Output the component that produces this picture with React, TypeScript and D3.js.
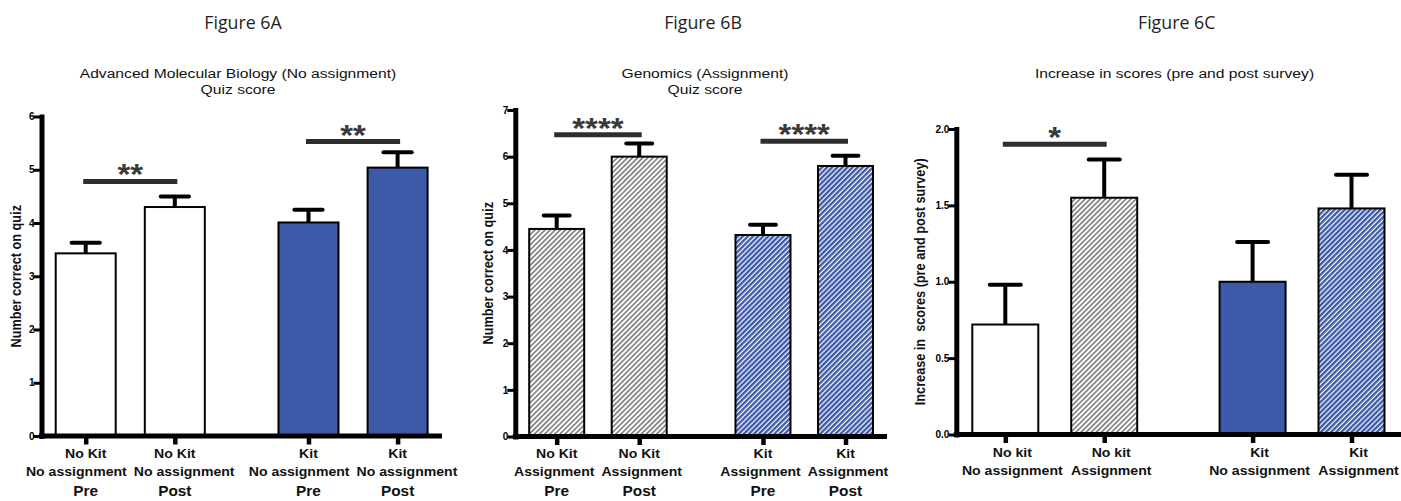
import { useEffect, useRef } from 'react';
import * as d3 from 'd3';

// Figure 6A - Advanced Molecular Biology (no assignment), quiz score
const labelsA = [
  ['No Kit', 'No assignment', 'Pre'],
  ['No Kit', 'No assignment', 'Post'],
  ['Kit', 'No assignment', 'Pre'],
  ['Kit', 'No assignment', 'Post'],
];
const meansA = [3.43, 4.30, 4.01, 5.04];
const errorsA = [0.20, 0.20, 0.24, 0.29];
const fillsA = ['white', 'white', 'blue', 'blue'];
const sigA = [
  { from: 0, to: 1, level: 4.78, stars: '**' },
  { from: 2, to: 3, level: 5.53, stars: '**' },
];
const ticksA = [0, 1, 2, 3, 4, 5, 6];

// Figure 6B - Genomics (assignment), quiz score
const labelsB = [
  ['No Kit', 'Assignment', 'Pre'],
  ['No Kit', 'Assignment', 'Post'],
  ['Kit', 'Assignment', 'Pre'],
  ['Kit', 'Assignment', 'Post'],
];
const meansB = [4.45, 6.00, 4.32, 5.80];
const errorsB = [0.29, 0.28, 0.22, 0.22];
const fillsB = ['grayHatch', 'grayHatch', 'blueHatch', 'blueHatch'];
const sigB = [
  { from: 0, to: 1, level: 6.47, stars: '****' },
  { from: 2, to: 3, level: 6.33, stars: '****' },
];
const ticksB = [0, 1, 2, 3, 4, 5, 6, 7];

// Figure 6C - increase in scores
const labelsC = [
  ['No kit', 'No assignment'],
  ['No kit', 'Assignment'],
  ['Kit', 'No assignment'],
  ['Kit', 'Assignment'],
];
const meansC = [0.72, 1.55, 1.00, 1.48];
const errorsC = [0.26, 0.25, 0.26, 0.22];
const fillsC = ['white', 'grayHatch', 'blue', 'blueHatch'];
const sigC = [{ from: 0, to: 1, level: 1.90, stars: '*' }];
const ticksC = [0, 0.5, 1, 1.5, 2];

const BLUE = '#3d5aa9';
const FILLS = {
  white: '#ffffff',
  blue: BLUE,
  grayHatch: 'url(#hatchGray)',
  blueHatch: 'url(#hatchBlue)',
};
const SANS = '"Liberation Sans", Arial, sans-serif';

const panels = [
  {
    title: 'Figure 6A',
    subtitle: ['Advanced Molecular Biology (No assignment)', 'Quiz score'],
    yLabel: 'Number correct on quiz',
    labels: labelsA, means: meansA, errors: errorsA, fills: fillsA, sig: sigA, ticks: ticksA,
    fmt: d3.format('d'),
    layout: { titleX: 243, subX: 238, subY: [78, 94], axisX: 41.5, yTop: 116.5, y0: 436, xEnd: 442,
      c0: 85.7, c3: 397.6, barW: 60, yLabelX: 16, labelDx: 0, rowY: [457.8, 476.3, 496] },
  },
  {
    title: 'Figure 6B',
    subtitle: ['Genomics (Assignment)', 'Quiz score'],
    yLabel: 'Number correct on quiz',
    labels: labelsB, means: meansB, errors: errorsB, fills: fillsB, sig: sigB, ticks: ticksB,
    fmt: d3.format('d'),
    layout: { titleX: 703, subX: 705, subY: [78, 94], axisX: 515.3, yTop: 110, y0: 436.5, xEnd: 887,
      c0: 556.7, c3: 845.5, barW: 55, yLabelX: 488.3, labelDx: 0, rowY: [457.8, 476.3, 496] },
  },
  {
    title: 'Figure 6C',
    subtitle: ['Increase in scores (pre and post survey)'],
    yLabel: 'Increase in  scores (pre and post survey)',
    labels: labelsC, means: meansC, errors: errorsC, fills: fillsC, sig: sigC, ticks: ticksC,
    fmt: d3.format('.1f'),
    layout: { titleX: 1176.7, subX: 1174.5, subY: [77.5], axisX: 956.3, yTop: 129, y0: 434.5, xEnd: 1401,
      c0: 1005.3, c3: 1351.5, barW: 66, yLabelX: 920, labelDx: 7, rowY: [457.3, 474.8] },
  },
];

// text that is a little wider than its font size, like the exported figure
function stretched(g, x, y, str, size, sx, weight) {
  return g.append('text')
    .attr('transform', `translate(${x},${y}) scale(${sx},1)`)
    .attr('text-anchor', 'middle')
    .style('font-family', SANS)
    .style('font-size', `${size}px`)
    .style('font-weight', weight)
    .style('white-space', 'pre')
    .attr('fill', '#111')
    .text(str);
}

function drawPanel(svg, p) {
  const L = p.layout;
  const g = svg.append('g');

  const y = d3.scaleLinear().domain([0, d3.max(p.ticks)]).range([L.y0, L.yTop]);
  const slot = p.means.map((_, i) => i + (i >= 2 ? 0.5 : 0));
  const x = d3.scaleLinear().domain([0, d3.max(slot)]).range([L.c0, L.c3]);

  // titles
  g.append('text')
    .attr('x', L.titleX)
    .attr('y', 28.5)
    .attr('text-anchor', 'middle')
    .style('font-family', '"Open Sans", sans-serif')
    .style('font-size', '17.8px')
    .attr('fill', '#231f20')
    .text(p.title);

  p.subtitle.forEach((line, i) => {
    stretched(g, L.subX, L.subY[i], line, 13.5, 1.16, 'normal');
  });

  // bars
  g.selectAll('rect.bar')
    .data(p.means)
    .join('rect')
    .attr('class', 'bar')
    .attr('x', (d, i) => x(slot[i]) - L.barW / 2)
    .attr('y', d => y(d))
    .attr('width', L.barW)
    .attr('height', d => y(0) - y(d))
    .attr('fill', (d, i) => FILLS[p.fills[i]])
    .attr('stroke', '#000')
    .attr('stroke-width', 2);

  // error bars (upper whisker only)
  const err = g.selectAll('g.err')
    .data(p.means)
    .join('g')
    .attr('class', 'err');
  err.append('line')
    .attr('x1', (d, i) => x(slot[i]))
    .attr('x2', (d, i) => x(slot[i]))
    .attr('y1', d => y(d))
    .attr('y2', (d, i) => y(d + p.errors[i]))
    .attr('stroke', '#000')
    .attr('stroke-width', 4);
  err.append('line')
    .attr('x1', (d, i) => x(slot[i]) - L.barW * 0.235)
    .attr('x2', (d, i) => x(slot[i]) + L.barW * 0.235)
    .attr('y1', (d, i) => y(d + p.errors[i]))
    .attr('y2', (d, i) => y(d + p.errors[i]))
    .attr('stroke', '#000')
    .attr('stroke-width', 4)
    .attr('stroke-linecap', 'round');

  // significance brackets
  p.sig.forEach(s => {
    const x1 = x(slot[s.from]);
    const x2 = x(slot[s.to]);
    g.append('line')
      .attr('x1', x1).attr('x2', x2)
      .attr('y1', y(s.level)).attr('y2', y(s.level))
      .attr('stroke', '#2e2e2e')
      .attr('stroke-width', 5)
      .attr('stroke-linecap', 'square');
    stretched(g, (x1 + x2) / 2, y(s.level) - 13.5 + 16.5, s.stars, 30, 1.1, 'bold')
      .attr('fill', '#3a3a3a');
  });

  // y axis
  const yAxis = g.append('g')
    .attr('transform', `translate(${L.axisX},0)`)
    .call(d3.axisLeft(y).tickValues(p.ticks).tickSize(8).tickSizeOuter(0).tickPadding(-1).tickFormat(p.fmt));
  yAxis.select('.domain')
    .attr('stroke', '#000')
    .attr('stroke-width', 5)
    .attr('stroke-linecap', 'square');
  yAxis.selectAll('.tick line').attr('stroke', '#000').attr('stroke-width', 3);
  yAxis.selectAll('.tick text')
    .attr('fill', '#000')
    .style('font-family', SANS)
    .style('font-size', '10px')
    .style('font-weight', 'bold');

  // x axis
  g.append('line')
    .attr('x1', L.axisX - 2.5).attr('x2', L.xEnd)
    .attr('y1', L.y0).attr('y2', L.y0)
    .attr('stroke', '#000')
    .attr('stroke-width', 5);
  const xAxis = g.append('g')
    .attr('transform', `translate(0,${L.y0})`)
    .call(d3.axisBottom(x).tickValues(slot).tickSize(8.5).tickFormat(''));
  xAxis.select('.domain').remove();
  xAxis.selectAll('.tick line').attr('stroke', '#000').attr('stroke-width', 4.5);

  // y label
  const mid = (L.y0 + L.yTop) / 2;
  g.append('text')
    .attr('transform', `translate(${L.yLabelX},${mid}) scale(1.1,1) rotate(-90)`)
    .attr('text-anchor', 'middle')
    .attr('dy', '0.35em')
    .style('font-family', SANS)
    .style('font-size', '12.7px')
    .style('font-weight', 'bold')
    .style('white-space', 'pre')
    .attr('fill', '#111')
    .text(p.yLabel);

  // category labels, pushed apart where neighbours would collide
  const rows = d3.max(p.labels, l => l.length);
  for (let r = 0; r < rows; r++) {
    const size = r < 2 ? 12.8 : 14;
    const base = L.rowY[r];
    const nodes = p.labels.map(lab => stretched(g, 0, base, lab[r], size, 1.1, 'bold'));
    const widths = nodes.map(n => n.node().getComputedTextLength() * 1.1);
    const cx = slot.map(s => x(s) + L.labelDx);
    [[0, 1], [2, 3]].forEach(([a, b]) => {
      const need = (widths[a] + widths[b]) / 2 + 7;
      const have = cx[b] - cx[a];
      if (have < need) {
        const shift = (need - have) / 2;
        cx[a] -= shift;
        cx[b] += shift;
      }
    });
    nodes.forEach((n, i) => n.attr('transform', `translate(${cx[i]},${base}) scale(1.1,1)`));
  }
}

const App = () => {
  const svgRef = useRef(null);

  useEffect(() => {
    if (!svgRef.current) return;
    const svg = d3.select(svgRef.current);
    svg.selectAll('*').remove();

    const defs = svg.append('defs');
    const addHatch = (id, fg, lineW) => {
      const pat = defs.append('pattern')
        .attr('id', id)
        .attr('patternUnits', 'userSpaceOnUse')
        .attr('width', 3.6)
        .attr('height', 3.6)
        .attr('patternTransform', 'rotate(45)');
      pat.append('rect').attr('width', 3.6).attr('height', 3.6).attr('fill', '#fff');
      pat.append('rect').attr('width', lineW).attr('height', 3.6).attr('fill', fg);
    };
    addHatch('hatchGray', '#7a7a7a', 1.6);
    addHatch('hatchBlue', BLUE, 2.4);

    panels.forEach(p => drawPanel(svg, p));
  }, []);

  return (
    <div style={{ position: 'absolute', left: 0, top: 0, background: '#fff' }}>
      <svg ref={svgRef} width={1401} height={501} style={{ display: 'block' }}></svg>
    </div>
  );
};

export default App;
